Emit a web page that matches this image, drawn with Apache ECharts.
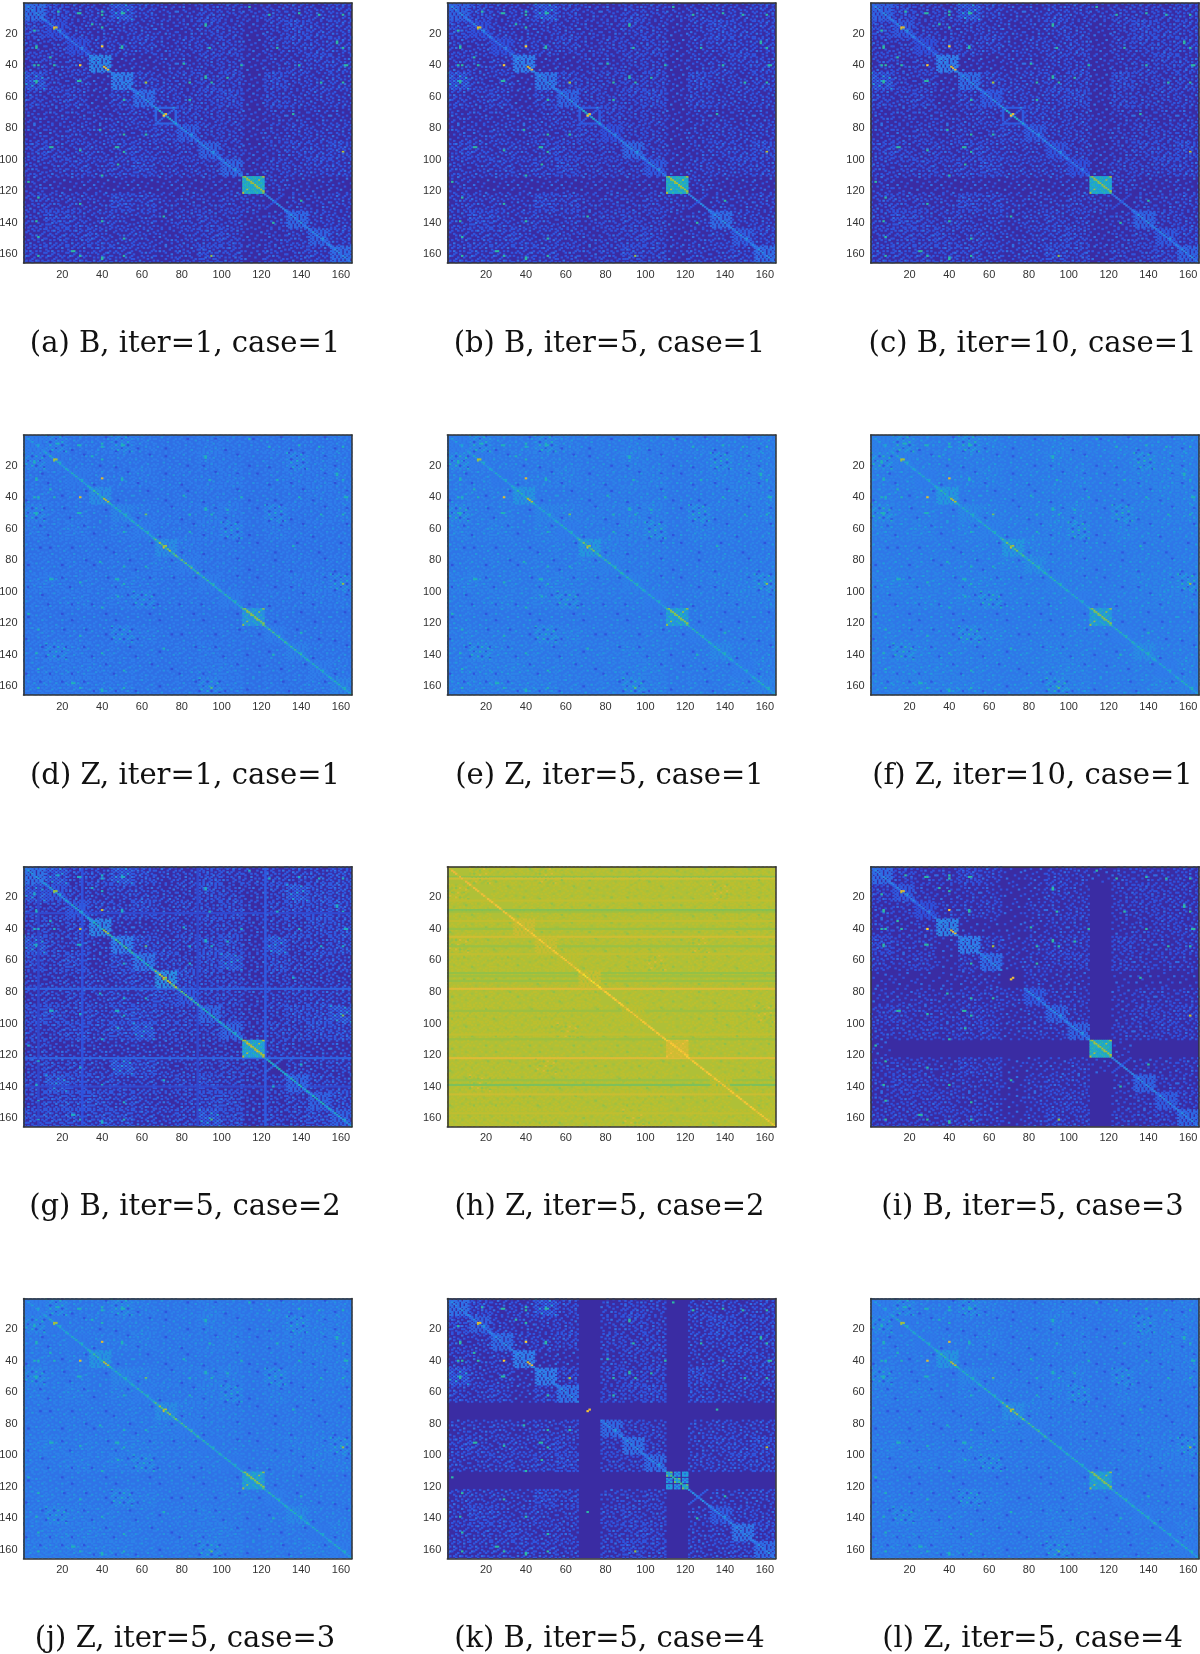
<!DOCTYPE html>
<html>
<head>
<meta charset="utf-8">
<style>html,body{margin:0;padding:0;background:#fff}#main{width:1200px;height:1654px;filter:blur(.35px)}</style>
<script src="https://cdn.jsdelivr.net/npm/echarts@6/dist/echarts.min.js"></script>
</head>
<body>
<div id="main"></div>
<script>
var captions = ['(a) B, iter=1, case=1','(b) B, iter=5, case=1','(c) B, iter=10, case=1',
                '(d) Z, iter=1, case=1','(e) Z, iter=5, case=1','(f) Z, iter=10, case=1',
                '(g) B, iter=5, case=2','(h) Z, iter=5, case=2','(i) B, iter=5, case=3',
                '(j) Z, iter=5, case=3','(k) B, iter=5, case=4','(l) Z, iter=5, case=4'];
var tickLabels = [20,40,60,80,100,120,140,160];
var parula = ['#3a2ca3','#2f52dd','#2f7eea','#1fa3d8','#20b6b0','#4cbf85','#90c14a','#bcbf2f','#ecb93a','#fdd030','#f9fb15'];

// background level of each panel
var baseLevels = [0,0,0, .165,.18,.185, 0,.67,0, .175,0,.175];
// the three brightness steps of the off-block dots, then the dark dots
var tierLow  = [.11,.11,.11, .2,.215,.22,  .12,.7,.1, .21,.11,.21];
var tierMid  = [.17,.17,.17, .25,.27,.28,  .18,.64,.16, .26,.17,.26];
var tierHigh = [.28,.28,.28, .32,.35,.37,  .27,.75,.28, .33,.28,.33];
var tierDark = [0,0,0, .09,.1,.11, 0,.6,0, .1,0,.1];
var densityShift = [1,1,1, 2,2,2, 2,2,0, 2,1,2];
var clearedBlocks = [[],[],[],[],[],[],[],[],[],[],[6,10],[]];
var thinnedBlocks = [[],[],[],[],[],[],[],[],[6,10],[],[],[]];
var hotGain = [1,1,1, .85,.85,.85, .8,0,1, .85,1,.85];
// how far the brightest cells of a diagonal block rise above its fill
var spotBump = [.35,.35,.35, .35,.35,.35, .4,.08,.35, .35,.4,.35];

// which dot pattern each pair of 11-node blocks has, read row by row
var interLetters = ['ecCfdbBDcBCcCd','CbcCBbdCaceDd','cCdBcCDAcdDd','aAbBcCabCdD','dCcDdAecCD','cCdeaDCcC',
                    'dcCAbBbB','cCaBcCc','CAbdDe','acCdD','bAaA','Bbc','cC','d'];
var motifA = ['...........','....1......','...........','.1.......2.','...........','......1....','...........','..2.....1..','...........','.....1.....','...1.......'];
var motifB = ['..1....1...','...........','1....2.....','.......1..1','...1.......','.........1.','1.....1....','....1......','..........2','..2....1...','......x....'];
var motifC = ['...1...1..1','.1.........','...1.2...1.','1.......1..','....1......','..1...1...2','.......1...','1...1......','...x...2.1.','.1.........','....1..1...'];
var motifD = ['.1..1...1.1','...2...1...','1.....1...1','..1.1....1.','......2....','1..1.....1.','....1.1...1','.2.....1...','...1.x...1.','1.......1..','..1..1.....'];
var motifE = ['1.1.1..1..1','...1..2..1.','.1....1....','1..2.1...1.','....1...1.1','.1.....1...','1..1.1...2.','......1..1.','.2.1...1...','..x...1..1.','1...1.....1'];
var motifF = ['1.1.2.1.1.1','.1...1..1..','1.2.1...1.1','..1..1.2...','1...1.1..1.','.1.2...1..1','1...1.1...1','..1...2.1..','1.x.1...1.1','.1..1.1..1.','1..2...1..1'];
var motifG = ['3x1.2.1.x.1','.1.2.1.3.1.','1.2.1x1.1.2','.1.1.2.1.1.','2.x.1.1.3.1','.1.1.3.1.1.','1.3.1.1.x.2','.1.1.2.1.1.','2.1.1x1.2.1','.1.3.1.2.1.','1.x.1.2.1x3'];
var motifs = [motifA,motifB,motifC,motifD,motifE,motifF,motifG];

// patterns of the blocks on the diagonal
var blockLattice = ['21.1.1.1.1.','12.11.1.1.1','.12.1.1.11.','1.12.11.1.1','.1.12.1.1.1','1.1.12.11..','.11.1.12.1.','1.1.1.1211.','.1.1.1.12.1','1.11.1.1.21','.1.1..11.12'];
var blockDense = ['21.1.11.1.1','12111.1.111','.12.11.11.1','11.2.1.1.1.','.11.21.1.11','1.1.12.111.','.1.1.12.1.1','11.1.1.2.11','.11.1.1.21.','1.1.1.1.12.','.11.11.1.12'];
var blockCross = ['2........1.','.2......1..','..2....1...','...2..1....','....21.....','....12.....','...1..2....','..1....2...','.1......2..','1........2.','..........2'];
var blockSolid = ['33111211123','13311121121','11331211311','21133112111','11213312121','12111331211','11211133112','21121113311','11311211331','12111121133','31121112113'];
var blockRing = ['21111111121','12.......1.','1.2.....1.1','1..2...1..1','1...2.1...1','1....2....1','1...1.2...1','1..1...2..1','1.1.....2.1','.1.......21','11111111112'];
var blockSplit = ['323.212.222','232.121.212','323.212.222','...........','212.323.212','121.232.121','212.323.212','...........','222.212.323','212.121.232','222.212.323'];
var blockTiles = {A:blockLattice, E:blockDense, X:blockCross, B:blockSolid, C:blockRing, D:blockSplit};
var blockKinds = ['EAAEEECAAABXEAE','EAAEEECAAABXEAE','EAAEEECAAABXEAE',
                  'AAAEAAEAAABAAAA','AAAEAAEAAABAAAA','AAAEAAEAAABAAAA',
                  'EAAEEEEAEABXEEA','AAAEEAEAAABAAAA','EAAEEEEAAABXEEE',
                  'AAAEAAEAAABAAAA','EAEEEECAEADXAEE','AAAEAAEAAABAAAA'];
var blockFills = [
  [.17,.1,.1,.22,.2,.16,.14,.13,.14,.15,.32,.1,.15,.14,.16],
  [.14,.1,.1,.2,.18,.14,.12,.1,.15,.12,.32,.1,.16,.13,.16],
  [.14,.12,.1,.2,.16,.12,.12,.12,.11,.1,.3,.09,.14,.12,.14],
  [.2,.19,.19,.24,.22,.2,.24,.2,.2,.2,.24,.2,.21,.2,.22],
  [.2,.2,.19,.26,.22,.2,.27,.21,.21,.2,.26,.2,.23,.2,.22],
  [.21,.21,.2,.27,.23,.21,.27,.24,.21,.2,.26,.2,.24,.2,.22],
  [.18,.12,.12,.22,.2,.18,.24,.12,.15,.15,.28,.15,.15,.14,.14],
  [0,0,0,.73,.72,.7,.72,0,.7,0,.74,0,.7,0,.7],
  [.16,.12,.1,.22,.2,.16,0,.12,.14,.14,.32,.1,.14,.13,.15],
  [.2,.19,.19,.26,.22,.2,.24,.2,.19,.19,.26,.2,.23,.19,.2],
  [.17,.14,.16,.2,.2,.17,0,.16,.17,.16,.15,.12,.13,.18,.16],
  [.2,.19,.19,.26,.22,.2,.24,.2,.19,.19,.26,.2,.2,.19,.2]];
var diagLevels = [
  [.25,.25,.2,.25,.25,.25,.35,.25,.25,.25,.6,.25,.25,.25,.25],
  [.25,.25,.2,.25,.25,.25,.35,.25,.25,.25,.6,.25,.25,.25,.25],
  [.25,.25,.2,.25,.25,.25,.35,.25,.25,.2,.55,.2,.25,.25,.25],
  [.3,.38,.38,.45,.4,.42,.6,.55,.45,.42,.6,.5,.45,.38,.4],
  [.3,.36,.36,.42,.36,.4,.55,.45,.42,.36,.55,.42,.4,.34,.4],
  [.3,.36,.36,.42,.36,.4,.55,.45,.42,.36,.55,.42,.4,.34,.4],
  [.3,.35,.35,.4,.5,.4,.75,.55,.4,.4,.75,.4,.4,.4,.35],
  [.8,.82,.84,.86,.86,.86,.92,.88,.86,.86,.88,.86,.86,.86,.86],
  [.25,.25,.2,.25,.25,.25,0,.25,.25,.25,.6,.25,.25,.25,.25],
  [.3,.38,.38,.45,.4,.42,.6,.5,.42,.4,.55,.42,.4,.36,.38],
  [.25,.25,.25,.25,.25,.25,0,.25,.25,.25,.5,.25,.25,.25,.25],
  [.3,.38,.38,.45,.4,.42,.6,.5,.42,.4,.55,.42,.4,.36,.38]];
var diagPattern = [8,6,9,7,9,6,8,9,6,7,8];
var diagPatternSoft = [9,8,9,9,9,8,9,9,8,9,9];

// whole rows and columns that stand out: [row or column, value]
var rowLines = [[],[],[],[],[],[],
  [[30,.08],[78,.14],[122,.14],[140,.08]],
  [[7,.6],[8,.74],[22,.71],[28,.58],[29,.63],[35,.71],[40,.62],[45,.74],[51,.62],[56,.71],[68,.61],[70,.63],[73,.62],[78,.77],[92,.63],[107,.71],[110,.63],[122,.77],[136,.62],[139,.57],[145,.73],[157,.71]],
  [],[],[],[]];
var colLines = [[],[],[],[],[],[],[[8,.07],[30,.1],[88,.07],[122,.12]],[],[],[],[],[]];

// single bright cells, row, column, value
var hotCells = [[16,16,.8],[16,17,.75],[17,16,.7],[28,40,.9],[40,29,.9],[42,42,.85],[43,43,.8],[41,41,.75],[72,71,.85],[71,72,.8],[95,161,.7],[161,95,.6],[51,62,.65]];
var tealCells = [[6,18],[7,29],[8,40],[7,51],[3,114],[8,124],[7,139],[8,149],[8,161],[14,35],[14,92],[18,6],[28,7],[29,50],[29,94],[29,128],[25,158],[29,161],[40,6],[40,16],[39,81],[40,110],[40,139],[40,163],[50,7],[50,28],[51,84],[51,95],[48,103],[47,92],[51,150],[51,161],[62,51],[62,84],[84,62],[84,51],[92,15],[92,48],[95,51],[161,51],[158,26],[161,29],[162,40],[136,71],[140,126]];

function buildCells(p){
    var cells = new Map();
    var tiers = {'1':tierLow[p],'2':tierMid[p],'3':tierHigh[p],'x':tierDark[p]};
    var isZ = baseLevels[p] > 0;
    var put = function(r,c,v){
        if (r>=0 && c>=0 && r<165 && c<165) cells.set(r*165+c,v);
    };
    interLetters.forEach(function(row,i){
        row.split('').forEach(function(ch,k){
            var j = i+k+1;
            if (clearedBlocks[p].indexOf(i)>=0 || clearedBlocks[p].indexOf(j)>=0) return;
            var idx = ch.toLowerCase().charCodeAt(0)-97+densityShift[p];
            if (thinnedBlocks[p].indexOf(i)>=0 || thinnedBlocks[p].indexOf(j)>=0) idx -= 1;
            if (idx<0) return;
            var motif = motifs[Math.min(idx,motifs.length-1)];
            var flip = ch!==ch.toLowerCase();
            for (var a=0;a<11;a++) for (var b=0;b<11;b++){
                var m = flip ? motif[10-a][10-b] : motif[a][b];
                if (m==='.' || (m==='x' && !isZ)) continue;
                put(i*11+a,j*11+b,tiers[m]);
                put(j*11+b,i*11+a,tiers[m]);
            }
        });
    });
    rowLines[p].forEach(function(l){ for (var c=0;c<165;c++) put(l[0]-1,c,l[1]); });
    colLines[p].forEach(function(l){ for (var r=0;r<165;r++) put(r,l[0]-1,l[1]); });
    var diagShape = p===7 ? diagPatternSoft : diagPattern;
    for (var n=0;n<15;n++){
        var tile = blockTiles[blockKinds[p][n]], fill = blockFills[p][n];
        if (fill>0) for (var a2=0;a2<11;a2++) for (var b2=0;b2<11;b2++){
            var d = tile[a2][b2];
            if (d==='.') continue;
            put(n*11+a2,n*11+b2, fill+(d==='2'?spotBump[p]/3:d==='3'?spotBump[p]:0));
        }
        if (diagLevels[p][n]>0) for (var t=0;t<11;t++) put(n*11+t,n*11+t,diagLevels[p][n]*diagShape[t]/9);
    }
    if (hotGain[p]>0){
        tealCells.forEach(function(h){
            put(h[0]-1,h[1]-1,.38*hotGain[p]+.05);
            put(h[1]-1,h[0]-1,.38*hotGain[p]+.05);
        });
        hotCells.forEach(function(h){ put(h[0]-1,h[1]-1,h[2]*hotGain[p]); });
    }
    var out = [];
    cells.forEach(function(v,key){ out.push([key%165,Math.floor(key/165),v]); });
    return out;
}

var nodes = [];
for (var i=1;i<=165;i++) nodes.push(String(i));
var gridLeft = [23.5,447.3,870.7], gridTop = [3,435,866.7,1298.5];
var captionX = [180,604.5,1027.5], captionY = [325,757,1188,1620];

function levelColor(v){ return echarts.color.lerp(v,parula); }

var chart = echarts.init(document.getElementById('main'),null,{renderer:'canvas'});
var grids=[],xAxes=[],yAxes=[],series=[],titles=[];
captions.forEach(function(text,p){
    var col = p%3, row = Math.floor(p/3);
    grids.push({left:gridLeft[col],top:gridTop[row],width:328.5,height:260,show:true,borderWidth:0,outerBoundsMode:'none',backgroundColor:levelColor(baseLevels[p])});
    var line = {show:true,onZero:false,lineStyle:{color:'#333',width:1.5}};
    var pick = function(idx,val){ return tickLabels.indexOf(+val)>=0; };
    var tick = {inside:true,length:3,alignWithLabel:true,interval:pick,lineStyle:{color:'#333'}};
    xAxes.push({type:'category',gridIndex:p,z:10,data:nodes,position:'bottom',axisLine:line,splitLine:{show:false},axisTick:tick,
        axisLabel:{interval:pick,margin:6,fontSize:11,color:'#333',fontFamily:'Liberation Sans'}});
    xAxes.push({type:'category',gridIndex:p,z:10,data:nodes,position:'top',axisLine:line,splitLine:{show:false},axisTick:tick,axisLabel:{show:false}});
    yAxes.push({type:'category',gridIndex:p,z:10,data:nodes,inverse:true,position:'left',axisLine:line,splitLine:{show:false},axisTick:tick,
        axisLabel:{interval:pick,margin:6,fontSize:11,color:'#333',fontFamily:'Liberation Sans'}});
    yAxes.push({type:'category',gridIndex:p,z:10,data:nodes,inverse:true,position:'right',axisLine:line,splitLine:{show:false},axisTick:tick,axisLabel:{show:false}});
    series.push({type:'heatmap',xAxisIndex:p*2,yAxisIndex:p*2,data:buildCells(p),silent:true,progressive:0,emphasis:{disabled:true}});
    titles.push({text:text,left:captionX[col],top:captionY[row],textAlign:'center',
        textStyle:{fontFamily:'DejaVu Serif',fontWeight:'normal',fontSize:29,color:'#111'}});
});
chart.setOption({
    animation:false,
    title:titles,
    grid:grids,
    xAxis:xAxes,
    yAxis:yAxes,
    visualMap:{type:'continuous',show:false,min:0,max:1,dimension:2,inRange:{color:parula}},
    series:series
});
</script>
</body>
</html>
